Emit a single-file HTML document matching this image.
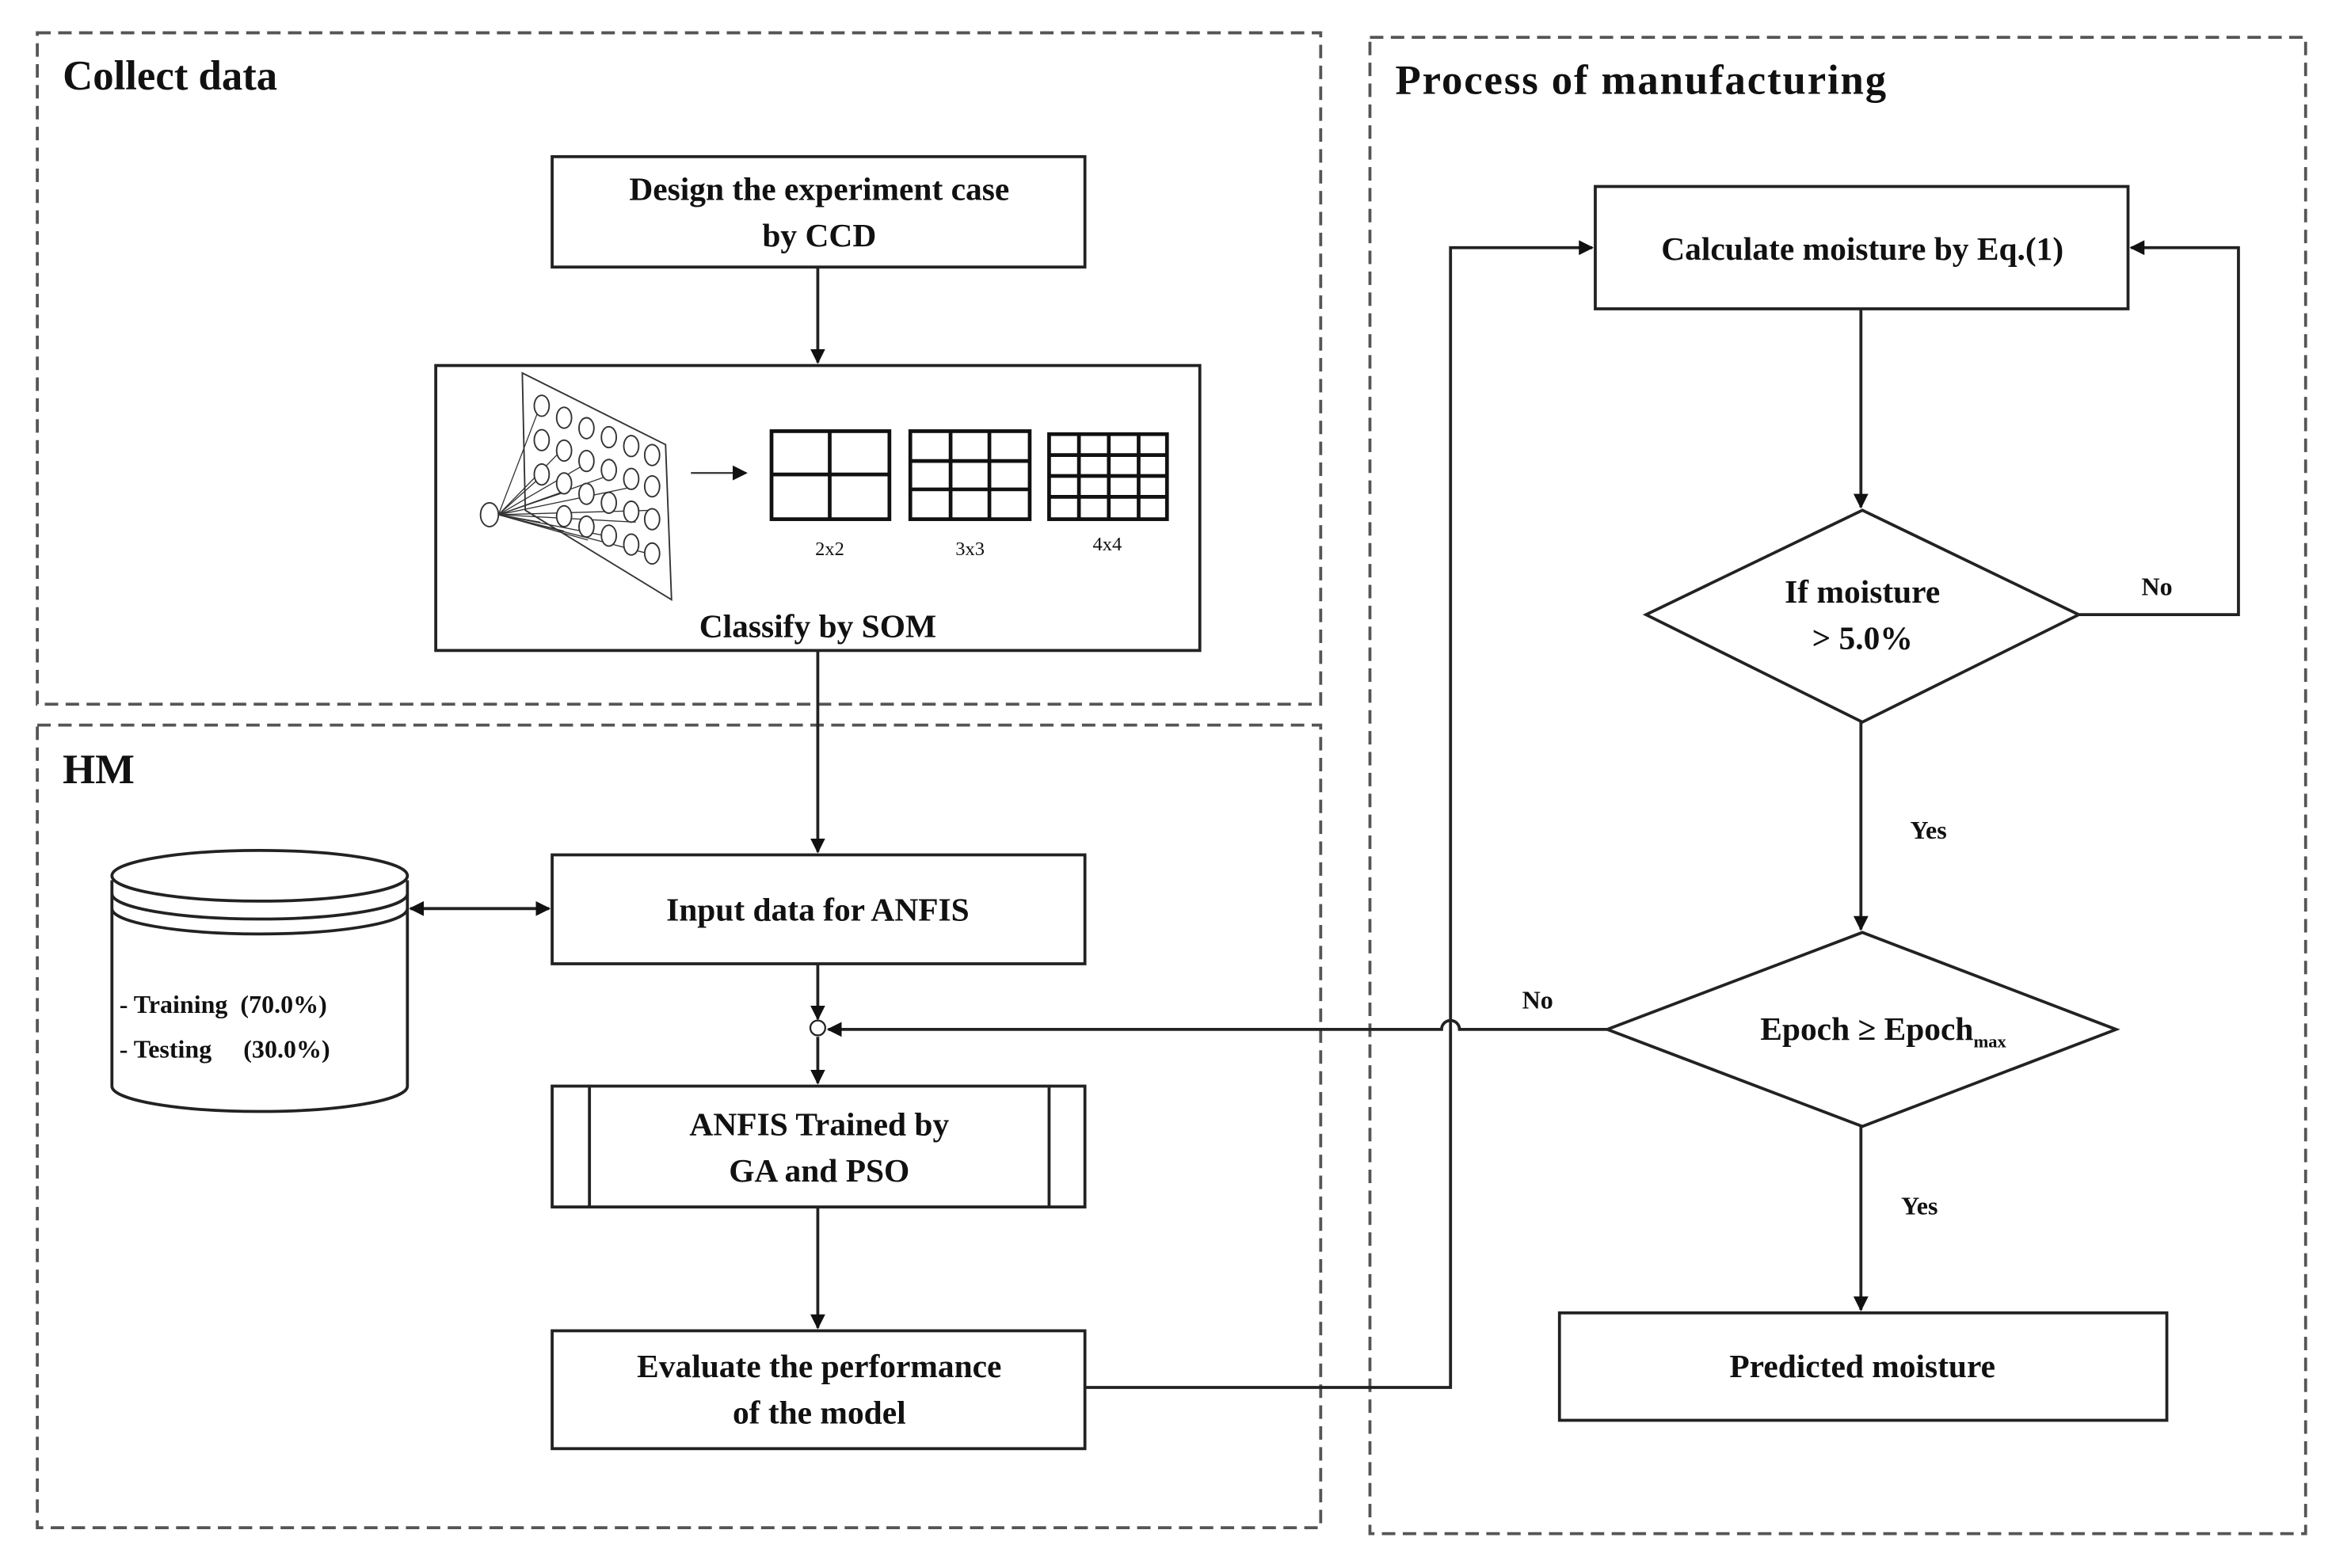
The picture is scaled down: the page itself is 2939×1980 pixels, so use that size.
<!DOCTYPE html>
<html><head><meta charset="utf-8"><style>
html,body{margin:0;padding:0;background:#fff;}
svg{display:block;}
text{font-family:"Liberation Serif",serif;font-weight:bold;fill:#111;}
</style></head><body>
<svg width="2939" height="1980" viewBox="0 0 1560 1051" preserveAspectRatio="none" xmlns="http://www.w3.org/2000/svg">
<defs>
<marker id="ah" markerWidth="10" markerHeight="10" refX="9" refY="5" orient="auto" markerUnits="userSpaceOnUse">
<path d="M0,0 L10,5 L0,10 z" fill="#111"/></marker>
<marker id="ahs" markerWidth="10" markerHeight="10" refX="1" refY="5" orient="auto" markerUnits="userSpaceOnUse">
<path d="M10,0 L0,5 L10,10 z" fill="#111"/></marker>
</defs>
<g fill="none" stroke="#555" stroke-width="2" stroke-dasharray="9,5">
<rect x="25" y="22" width="860" height="450"/>
<rect x="25" y="486" width="860" height="538"/>
<rect x="918" y="25" width="627" height="1003"/>
</g>
<text x="42" y="60" font-size="28">Collect data</text>
<text x="42" y="525" font-size="28">HM</text>
<text x="935" y="63" font-size="28" letter-spacing="1">Process of manufacturing</text>

<g fill="none" stroke="#222" stroke-width="2">
<rect x="370" y="105" width="357" height="74"/>
<rect x="292" y="245" width="512" height="191"/>
<rect x="370" y="573" width="357" height="73"/>
<rect x="370" y="728" width="357" height="81"/>
<line x1="395" y1="728" x2="395" y2="809"/><line x1="703" y1="728" x2="703" y2="809"/>
<rect x="370" y="892" width="357" height="79"/>
<rect x="1069" y="125" width="357" height="82"/>
<rect x="1045" y="880" width="407" height="72"/>
<polygon points="1103,412 1248,342 1393,412 1248,484"/>
<polygon points="1077,690 1248,625 1418,690 1248,755"/>
</g>

<g fill="none" stroke="#222" stroke-width="2">
<line x1="548" y1="179" x2="548" y2="243" marker-end="url(#ah)"/>
<line x1="548" y1="436" x2="548" y2="571" marker-end="url(#ah)"/>
<line x1="548" y1="646" x2="548" y2="683" marker-end="url(#ah)"/>
<line x1="548" y1="695" x2="548" y2="726" marker-end="url(#ah)"/>
<line x1="548" y1="809" x2="548" y2="890" marker-end="url(#ah)"/>
<line x1="275" y1="609" x2="368" y2="609" marker-start="url(#ahs)" marker-end="url(#ah)"/>
<path d="M727,930 H972 V166 H1067" marker-end="url(#ah)"/>
<line x1="1247" y1="207" x2="1247" y2="340" marker-end="url(#ah)"/>
<path d="M1393,412 H1500 V166 H1428" marker-end="url(#ah)"/>
<line x1="1247" y1="484" x2="1247" y2="623" marker-end="url(#ah)"/>
<line x1="1247" y1="755" x2="1247" y2="878" marker-end="url(#ah)"/>
<path d="M1077,690 H978 A6,6 0 0 0 966,690 H555" marker-end="url(#ah)"/>
<circle cx="548" cy="689" r="5" fill="#fff" stroke-width="1.2"/>
</g>

<g fill="#fff" stroke="#222" stroke-width="2">
<path d="M75,590 V728 A99,17 0 0 0 273,728 V590"/>
<ellipse cx="174" cy="587" rx="99" ry="17"/>
<path d="M75,599 A99,17 0 0 0 273,599" fill="none"/>
<path d="M75,609 A99,17 0 0 0 273,609" fill="none"/>
</g>
<text x="80" y="679" font-size="17" style="white-space:pre">- Training  (70.0%)</text>
<text x="80" y="709" font-size="17" style="white-space:pre">- Testing     (30.0%)</text>

<g fill="none" stroke="#333" stroke-width="1">
<polygon points="350,250 446,298 450,402 352,342"/>
<ellipse cx="328" cy="345" rx="6" ry="8"/>
<g stroke-width="0.7">
<line x1="334" y1="345" x2="362" y2="272"/><line x1="334" y1="345" x2="378" y2="300"/>
<line x1="334" y1="345" x2="394" y2="310"/><line x1="334" y1="345" x2="410" y2="318"/>
<line x1="334" y1="345" x2="426" y2="326"/><line x1="334" y1="345" x2="438" y2="342"/>
<line x1="334" y1="345" x2="426" y2="350"/><line x1="334" y1="345" x2="410" y2="360"/>
<line x1="334" y1="345" x2="394" y2="362"/><line x1="334" y1="345" x2="378" y2="356"/>
<line x1="334" y1="345" x2="362" y2="350"/><line x1="334" y1="345" x2="438" y2="372"/>
<line x1="334" y1="345" x2="362" y2="320"/><line x1="334" y1="345" x2="378" y2="330"/>
</g>
<g fill="#fff">
<ellipse cx="363" cy="272" rx="5" ry="7"/><ellipse cx="378" cy="280" rx="5" ry="7"/><ellipse cx="393" cy="287" rx="5" ry="7"/><ellipse cx="408" cy="293" rx="5" ry="7"/><ellipse cx="423" cy="299" rx="5" ry="7"/><ellipse cx="437" cy="305" rx="5" ry="7"/>
<ellipse cx="363" cy="295" rx="5" ry="7"/><ellipse cx="378" cy="302" rx="5" ry="7"/><ellipse cx="393" cy="309" rx="5" ry="7"/><ellipse cx="408" cy="315" rx="5" ry="7"/><ellipse cx="423" cy="321" rx="5" ry="7"/><ellipse cx="437" cy="326" rx="5" ry="7"/>
<ellipse cx="363" cy="318" rx="5" ry="7"/><ellipse cx="378" cy="324" rx="5" ry="7"/><ellipse cx="393" cy="331" rx="5" ry="7"/><ellipse cx="408" cy="337" rx="5" ry="7"/><ellipse cx="423" cy="343" rx="5" ry="7"/><ellipse cx="437" cy="348" rx="5" ry="7"/>
<ellipse cx="378" cy="346" rx="5" ry="7"/><ellipse cx="393" cy="353" rx="5" ry="7"/><ellipse cx="408" cy="359" rx="5" ry="7"/><ellipse cx="423" cy="365" rx="5" ry="7"/><ellipse cx="437" cy="371" rx="5" ry="7"/>
</g>
</g>
<line x1="463" y1="317" x2="500" y2="317" stroke="#333" stroke-width="1.2" marker-end="url(#ah)"/>
<g fill="none" stroke="#111" stroke-width="2.5">
<rect x="517" y="289" width="79" height="59"/><line x1="556" y1="289" x2="556" y2="348"/><line x1="517" y1="318" x2="596" y2="318"/>
<rect x="610" y="289" width="80" height="59"/><line x1="637" y1="289" x2="637" y2="348"/><line x1="663" y1="289" x2="663" y2="348"/><line x1="610" y1="309" x2="690" y2="309"/><line x1="610" y1="328" x2="690" y2="328"/>
<rect x="703" y="291" width="79" height="57"/><line x1="723" y1="291" x2="723" y2="348"/><line x1="743" y1="291" x2="743" y2="348"/><line x1="763" y1="291" x2="763" y2="348"/><line x1="703" y1="305" x2="782" y2="305"/><line x1="703" y1="319" x2="782" y2="319"/><line x1="703" y1="333" x2="782" y2="333"/>
</g>
<g font-size="13" text-anchor="middle">
<text x="556" y="372" style="font-weight:normal">2x2</text>
<text x="650" y="372" style="font-weight:normal">3x3</text>
<text x="742" y="369" style="font-weight:normal">4x4</text>
</g>

<g font-size="22" text-anchor="middle">
<text x="549" y="134">Design the experiment case</text>
<text x="549" y="165">by CCD</text>
<text x="548" y="427">Classify by SOM</text>
<text x="548" y="617">Input data for ANFIS</text>
<text x="549" y="761">ANFIS Trained by</text>
<text x="549" y="792">GA and PSO</text>
<text x="549" y="923">Evaluate the performance</text>
<text x="549" y="954">of the model</text>
<text x="1248" y="174">Calculate moisture by Eq.(1)</text>
<text x="1248" y="404">If moisture</text>
<text x="1248" y="435">&gt; 5.0%</text>
<text x="1248" y="923">Predicted moisture</text>
<text x="1262" y="697">Epoch ≥ Epoch<tspan font-size="12" dy="5">max</tspan></text>
</g>
<g font-size="17">
<text x="1435" y="399">No</text>
<text x="1280" y="562">Yes</text>
<text x="1020" y="676">No</text>
<text x="1274" y="814">Yes</text>
</g>
</svg>
</body></html>
